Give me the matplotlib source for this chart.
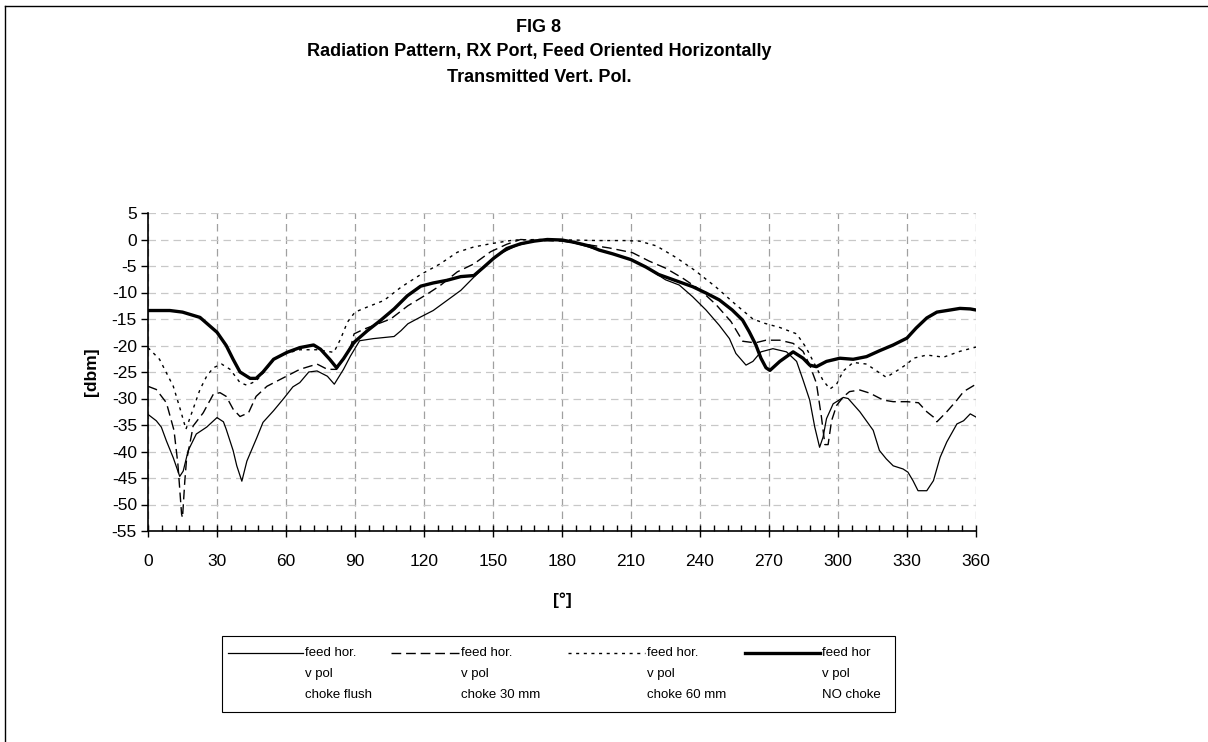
import matplotlib
matplotlib.use("Agg")
import matplotlib.pyplot as plt
from matplotlib.lines import Line2D
from matplotlib.patches import Rectangle
from matplotlib.ticker import MultipleLocator

plt.rcParams['font.family'] = ['Liberation Sans', 'DejaVu Sans']
plt.rcParams['axes.unicode_minus'] = False

# ---------------- data (angle in degrees, level in dBm) ----------------
choke_flush = [(0, -33), (3.6, -34.2), (5.8, -35.4), (8, -38), (11, -41.2), (13.8, -44.7),
               (15.3, -43.7), (17.5, -39.8), (21, -36.7), (25.5, -35.4), (30, -33.6),
               (32.8, -34.4), (34, -35.8), (37, -39.8), (38.6, -42.7), (40.8, -45.6),
               (43, -41.8), (47.3, -37.4), (50, -34.5), (54.6, -32.3), (59, -30), (63, -27.8),
               (66, -27), (69.9, -25), (73.5, -24.8), (78, -25.8), (81, -27.3), (85, -24.5),
               (88, -22), (92, -19.1), (98, -18.7), (107, -18.3), (110, -17.2), (113, -15.9),
               (118.6, -14.6), (124, -13.4), (130, -11.5), (136, -9.6), (141.7, -7.1),
               (147.5, -4.6), (153, -2.7), (160, -1.2), (167, -0.4), (173, 0), (180, -0.1),
               (187.5, -0.9), (196, -2), (202, -2.7), (210, -3.8), (216.5, -5.2), (225, -7.6),
               (231, -8.6), (236.8, -10.8), (242.6, -13.3), (248.4, -16.2), (252.8, -18.7),
               (255.6, -21.5), (260, -23.7), (263, -23), (266.5, -21.2), (271.7, -20.6),
               (277.6, -21.2), (282, -23), (284.8, -26.5), (287.7, -30.3), (289.9, -35.4),
               (292, -39.2), (293.5, -37.3), (295, -33.8), (297.9, -31), (302.3, -29.8),
               (304.4, -30), (309.5, -32.5), (315.3, -36), (318, -39.8), (321, -41.4),
               (324, -42.7), (328.3, -43.3), (330.4, -43.9), (332.6, -45.5), (334.8, -47.4),
               (338.6, -47.4), (341.5, -45.5), (344.4, -41.1), (347.3, -38.2), (351.7, -34.8),
               (354.6, -34.2), (357.5, -32.9), (360, -33.5)]

choke_30mm = [(0, -27.7), (3.6, -28.3), (8, -30.8), (11.3, -36), (13, -42.4), (14.6, -51.8),
              (15, -52.5), (16, -45.6), (16.7, -41.8), (19, -36.7), (19.6, -35.2), (24, -32.7),
              (28.4, -29.2), (31.3, -28.9), (34, -29.6), (37, -32), (40, -33.4), (43.7, -32.7),
              (47, -29.6), (51.7, -27.7), (57.5, -26.4), (66, -24.5), (73.5, -23.5), (78, -24.5),
              (82, -24.5), (85, -22.5), (88, -20.5), (89.6, -17.8), (94, -16.9), (105.5, -15),
              (113, -12.5), (121.4, -10.3), (127, -8.7), (134.5, -6.1), (141.7, -4.6),
              (149, -2.3), (156, -0.9), (162, 0), (170, -0.2), (180, -0.3), (190, -0.9),
              (200.6, -1.6), (210.7, -2.5), (218, -4.1), (225, -5.4), (232.5, -7.3), (240, -9.5),
              (247, -12.3), (253.5, -15.5), (258.6, -19.2), (264, -19.5), (268.7, -19.0),
              (274.7, -19), (280.5, -19.6), (284.8, -21.1), (287.7, -23.7), (290.6, -27.1),
              (292.8, -33.5), (294.3, -38.7), (295.7, -38.7), (297.2, -34.2), (299.4, -31.3),
              (302.3, -29.7), (305, -28.7), (309.5, -28.4), (313.9, -29), (319.7, -30.3),
              (324, -30.6), (330, -30.6), (335, -30.8), (338.6, -32.5), (341.5, -33.5),
              (343, -34.4), (347.3, -32.5), (351.7, -30.3), (354.6, -28.7), (360, -27.3)]

choke_60mm = [(0, -20.4), (5, -22.6), (11, -27.7), (14, -32), (16.5, -35.8), (19.6, -32),
              (22.6, -28.3), (25.5, -25.8), (28.4, -24.2), (32, -23.5), (35.7, -24.5), (40, -27),
              (43, -27.5), (47, -26.7), (50, -25.2), (55, -22.5), (60, -21.5), (66, -20.8),
              (73.5, -20.8), (80.8, -21.3), (83.7, -18.8), (86.7, -15.6), (90, -13.7),
              (95, -12.8), (102.6, -11.5), (110, -9), (118.6, -6.6), (127, -4.6), (134.5, -2.4),
              (141.7, -1.4), (149, -0.8), (159, -0.1), (170, 0), (185, -0.1), (196, -0.2),
              (207, -0.2), (213.6, -0.3), (221, -1.2), (229.6, -3.4), (238, -5.9), (247, -9),
              (255.6, -12.3), (263, -15), (268, -15.8), (274.7, -16.6), (282, -17.8), (286, -20.3),
              (289, -22.8), (293.5, -26.6), (296.5, -28.2), (299.4, -27.3), (302.3, -24.8),
              (306.6, -23.2), (312.4, -23.5), (316.8, -24.8), (321, -26), (325.5, -24.8),
              (330, -23.5), (332.8, -22.4), (338.6, -21.8), (345.9, -22.2), (353, -21.1),
              (360, -20.3)]

no_choke = [(0, -13.4), (9.5, -13.4), (15, -13.7), (22.6, -14.7), (30, -17.5), (34, -20),
            (37, -22.6), (40, -25), (44.4, -26.2), (47, -26.2), (50, -25), (54.6, -22.6),
            (60.4, -21.3), (66, -20.4), (72, -19.9), (75, -20.7), (79, -22.6), (82, -24.2),
            (85, -22.5), (89.6, -19.4), (95.4, -17.2), (101, -15.3), (107, -13.1),
            (112.8, -10.6), (118.6, -8.8), (124, -8.2), (130, -7.7), (136, -7.0), (141.7, -6.8),
            (146, -5.2), (150.4, -3.5), (156, -1.7), (162, -0.8), (168, -0.3), (173.6, 0),
            (180, -0.1), (185, -0.5), (191.7, -1.2), (196.2, -2), (202, -2.7), (210, -3.8),
            (216.5, -5.2), (222, -6.6), (231, -8), (236.8, -8.9), (242.6, -10.1),
            (248.4, -11.4), (254, -13.3), (258.5, -15.2), (261.4, -17.4), (264.3, -19.9),
            (266.5, -22.4), (268.7, -24.2), (270.4, -24.7), (274.7, -23), (280.5, -21.2),
            (284.8, -22.4), (287.7, -23.7), (290.6, -24), (295, -23), (300.8, -22.4),
            (306.6, -22.6), (312.4, -22.1), (318, -21), (324, -19.9), (330, -18.6),
            (334, -16.7), (338.6, -14.8), (343, -13.7), (348.8, -13.3), (353, -13),
            (357.5, -13.1), (360, -13.3)]

legend_line1 = ["feed hor.", "feed hor.", "feed hor.", "feed hor"]
legend_line2 = ["v pol", "v pol", "v pol", "v pol"]
legend_line3 = ["choke flush", "choke 30 mm", "choke 60 mm", "NO choke"]

title_lines = ["FIG 8", "Radiation Pattern, RX Port, Feed Oriented Horizontally",
               "Transmitted Vert. Pol."]
x_label = "[°]"
y_label = "[dbm]"
x_ticks = list(range(0, 361, 30))
y_ticks = list(range(-55, 6, 5))

# ---------------- figure ----------------
W, H = 1208, 742
fig = plt.figure(figsize=(W / 100, H / 100), dpi=100)
fx = lambda x: x / W
fy = lambda y: 1 - y / H

ax = fig.add_axes([fx(148), fy(531), (976 - 148) / W, (531 - 213) / H])

styles = [
    dict(color='black', lw=0.9, ls='-'),
    dict(color='black', lw=1.0, ls=(0, (7, 3.5))),
    dict(color='black', lw=1.0, ls=(0, (2.2, 3.3))),
    dict(color='black', lw=2.4, ls='-'),
]
series = [choke_flush, choke_30mm, choke_60mm, no_choke]
for data, st in zip(series, styles):
    xs = [p[0] for p in data]
    ys = [p[1] for p in data]
    ax.plot(xs, ys, solid_joinstyle='round', **st)

ax.set_xlim(0, 360)
ax.set_ylim(-55, 5)
ax.set_xticks(x_ticks)
ax.set_yticks(y_ticks)
ax.xaxis.set_minor_locator(MultipleLocator(6))
ax.xaxis.grid(True, which='major', color='#a0a0a0', lw=0.9, ls=(0, (6, 4)))
ax.yaxis.grid(True, which='major', color='#c8c8c8', lw=0.9, ls=(0, (6, 4)))
ax.set_axisbelow(True)
for s in ['top', 'right']:
    ax.spines[s].set_visible(False)
for s in ['left', 'bottom']:
    ax.spines[s].set_linewidth(1.2)
    ax.spines[s].set_color('black')
ax.tick_params(axis='x', which='major', direction='inout', length=9, width=1.0,
               labelsize=12.5, pad=12)
ax.tick_params(axis='x', which='minor', direction='in', length=4, width=1.0)
ax.tick_params(axis='y', which='major', direction='out', length=5, width=1.0,
               labelsize=12.5, pad=3)

fig.text(fx(562), fy(600), x_label, ha='center', va='center', fontsize=12.5, fontweight='bold')
fig.text(fx(92), fy(372), y_label, ha='center', va='center', fontsize=12.5,
         fontweight='bold', rotation=90)

for txt, yy in zip(title_lines, [27, 52, 77]):
    fig.text(fx(539), fy(yy), txt, ha='center', va='center', fontsize=13, fontweight='bold')

# border lines of the chart area
fig.add_artist(Line2D([fx(5), fx(5)], [fy(6), 0], color='black', lw=1.0,
                      transform=fig.transFigure))
fig.add_artist(Line2D([fx(5), 1], [fy(6), fy(6)], color='black', lw=1.0,
                      transform=fig.transFigure))

# legend box
lb_left, lb_right, lb_top, lb_bot = 222, 895, 636, 712
fig.add_artist(Rectangle((fx(lb_left), fy(lb_bot)), (lb_right - lb_left) / W,
                         (lb_bot - lb_top) / H, fill=False, ec='black', lw=0.8,
                         transform=fig.transFigure))
sample_cols = [(228, 303), (391, 459), (568, 645), (745, 820)]
line_y = [653, 674, 695]
for i, ((x0, x1), st) in enumerate(zip(sample_cols, styles)):
    fig.add_artist(Line2D([fx(x0), fx(x1)], [fy(line_y[0]), fy(line_y[0])],
                          transform=fig.transFigure, **st))
    for txt, yy in zip([legend_line1[i], legend_line2[i], legend_line3[i]], line_y):
        fig.text(fx(x1 + 2), fy(yy), txt, ha='left', va='center', fontsize=9.5)

fig.savefig("out.png", dpi=100)
